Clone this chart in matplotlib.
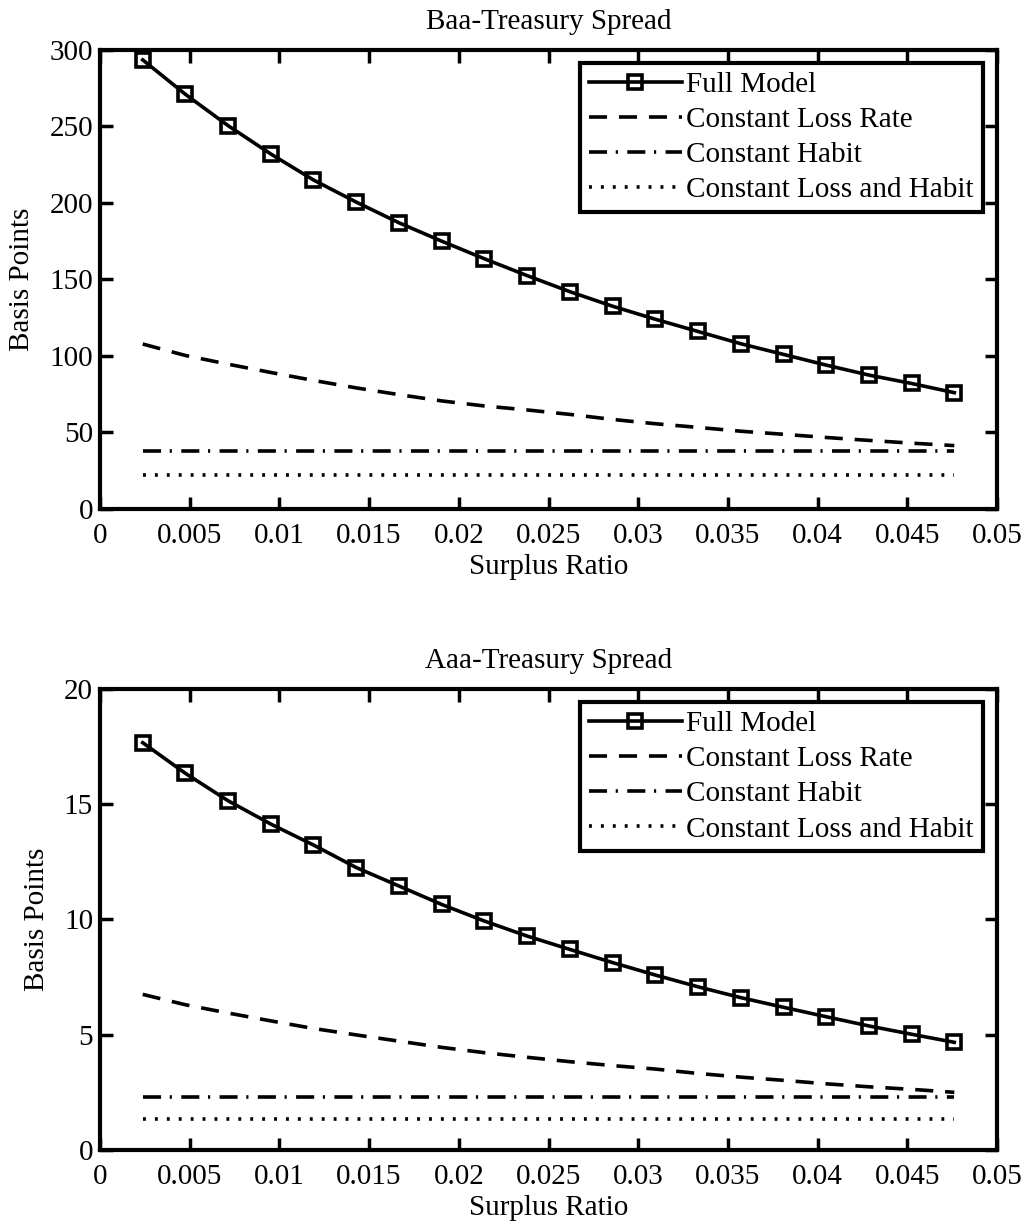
import numpy as np
import matplotlib
matplotlib.use("Agg")
import matplotlib.pyplot as plt

plt.rcParams['font.family'] = ['Liberation Serif', 'DejaVu Serif']
plt.rcParams['font.size'] = 21

# surplus ratio grid
surplus = [0.00238, 0.00476, 0.00714, 0.00952, 0.01190, 0.01429, 0.01667,
           0.01905, 0.02143, 0.02381, 0.02619, 0.02857, 0.03095, 0.03333,
           0.03571, 0.03810, 0.04048, 0.04286, 0.04524, 0.04762]

# Baa-Treasury spread, basis points
baa_full = [293.5, 271.0, 250.5, 232.0, 215.0, 200.5, 187.0, 175.0, 163.5, 152.5,
            142.0, 132.5, 124.0, 116.0, 108.0, 101.0, 94.0, 87.5, 82.0, 76.0]
baa_loss = [107.8, 100.3, 94.6, 89.2, 84.0, 79.1, 74.7, 70.6, 67.3, 64.7,
            61.8, 58.5, 55.7, 53.3, 50.8, 48.8, 46.7, 44.8, 43.0, 41.4]
baa_habit = 38.1
baa_both = 22.2

# Aaa-Treasury spread, basis points
aaa_full = [17.67, 16.34, 15.15, 14.14, 13.23, 12.25, 11.45, 10.65, 9.93, 9.28,
            8.70, 8.13, 7.59, 7.08, 6.61, 6.19, 5.78, 5.38, 5.02, 4.67]
aaa_loss = [6.75, 6.30, 5.94, 5.60, 5.27, 4.99, 4.72, 4.45, 4.22, 4.02,
            3.83, 3.66, 3.51, 3.32, 3.16, 3.02, 2.87, 2.74, 2.63, 2.50]
aaa_habit = 2.31
aaa_both = 1.33

labels = ['Full Model', 'Constant Loss Rate', 'Constant Habit',
          'Constant Loss and Habit']
xticks = [0, 0.005, 0.01, 0.015, 0.02, 0.025, 0.03, 0.035, 0.04, 0.045, 0.05]

fig = plt.figure(figsize=(10.29, 12.24), dpi=100, facecolor='white')
ax1 = fig.add_axes([0.0972, 0.5842, 0.8717, 0.3750])
ax2 = fig.add_axes([0.0972, 0.0605, 0.8717, 0.3766])

lw = 2.6
for ax, title, full, loss, habit, both, ymax, ystep in [
        (ax1, 'Baa-Treasury Spread', baa_full, baa_loss, baa_habit, baa_both, 300, 50),
        (ax2, 'Aaa-Treasury Spread', aaa_full, aaa_loss, aaa_habit, aaa_both, 20, 5)]:
    x = np.array(surplus)
    ax.plot(x, full, '-', color='black', lw=lw, marker='s', ms=9.5,
            mfc='none', mec='black', mew=2.6, label=labels[0])
    ax.plot(x, loss, color='black', lw=lw, ls=(0, (5, 3.3)), label=labels[1])
    ax.plot(x, np.full(len(x), habit), color='black', lw=lw,
            ls=(0, (5, 2.4, 0.6, 2.6)), label=labels[2])
    ax.plot(x, np.full(len(x), both), color='black', lw=lw,
            ls=(0, (0.8, 2.5)), label=labels[3])

    ax.set_xlim(0, 0.05)
    ax.set_ylim(0, ymax)
    ax.set_xticks(xticks)
    ax.set_xticklabels(['%g' % v for v in xticks])
    ax.set_yticks(np.arange(0, ymax + 1, ystep))
    ax.tick_params(direction='in', length=9, width=2.5, top=True, right=True,
                   labelsize=21)
    ax.tick_params(axis='x', pad=10)
    ax.tick_params(axis='y', pad=5)
    for s in ax.spines.values():
        s.set_linewidth(3)
    ax.set_title(title, fontsize=21, pad=15)
    ax.set_xlabel('Surplus Ratio', fontsize=21, labelpad=4)
    ax.set_ylabel('Basis Points', fontsize=21, labelpad=10)

    leg = ax.legend(loc='upper right', bbox_to_anchor=(0.984, 0.972),
                    borderaxespad=0, fancybox=False, framealpha=1,
                    edgecolor='black', fontsize=21, handlelength=3.2,
                    handletextpad=0.15, labelspacing=0.3, borderpad=0.3)
    leg.get_frame().set_linewidth(3)

fig.savefig('out.png', dpi=100)
